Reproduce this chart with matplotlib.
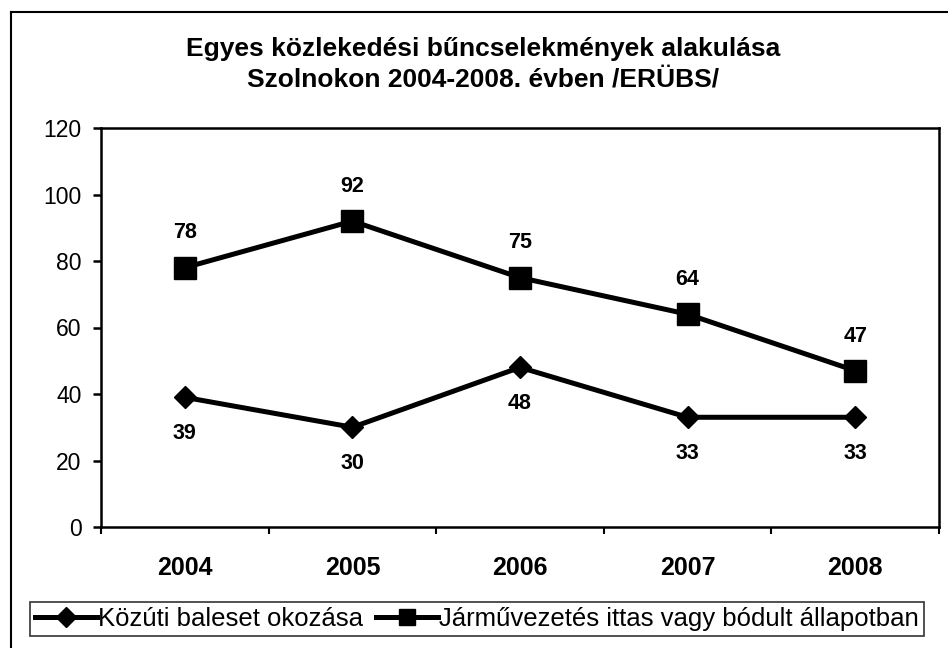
"""Közlekedési bűncselekmények Szolnokon 2004-2008 - line chart."""

import matplotlib
matplotlib.use("Agg")
import matplotlib.pyplot as plt
from matplotlib.lines import Line2D

plt.rcParams['font.family'] = ['Liberation Sans', 'DejaVu Sans']

# Data
years = ["2004", "2005", "2006", "2007", "2008"]
kozuti_baleset = [39, 30, 48, 33, 33]
ittas_jarmuvezetes = [78, 92, 75, 64, 47]
series_labels = ["Közúti baleset okozása",
                 "Járművezetés ittas vagy bódult állapotban"]
title_text = "Egyes közlekedési bűncselekmények alakulása\nSzolnokon 2004-2008. évben /ERÜBS/"
y_ticks = [0, 20, 40, 60, 80, 100, 120]

W, H = 948, 648
fig = plt.figure(figsize=(W / 100, H / 100), dpi=100)
ax = fig.add_axes([101 / W, 1 - 527 / H, (939 - 101) / W, (527 - 128) / H])

x = list(range(len(years)))

# Lines with markers
ax.plot(x, kozuti_baleset, color="black", lw=3.6, marker="D", ms=11,
        solid_joinstyle="miter", zorder=3)
ax.plot(x, ittas_jarmuvezetes, color="black", lw=3.6, marker="s", ms=16,
        solid_joinstyle="miter", zorder=3)

# Value labels: below for the diamonds, above for the squares
for xi, v in zip(x, kozuti_baleset):
    ax.annotate(str(v), (xi, v), xytext=(0, -26), textcoords="offset points",
                ha="center", va="center", fontsize=15.5, fontweight="bold")
for xi, v in zip(x, ittas_jarmuvezetes):
    ax.annotate(str(v), (xi, v), xytext=(0, 25), textcoords="offset points",
                ha="center", va="center", fontsize=15.5, fontweight="bold")

# Axes
ax.set_xlim(-0.5, len(years) - 0.5)
ax.set_ylim(0, 120)
ax.set_yticks(y_ticks)
ax.set_xticks(x)
ax.set_xticklabels(years, fontsize=18, fontweight="bold")
ax.set_xticks([i - 0.5 for i in range(len(years) + 1)], minor=True)
ax.tick_params(axis="x", which="major", length=0, pad=21)
ax.tick_params(axis="x", which="minor", length=5, width=1.5, direction="out")
ax.tick_params(axis="y", labelsize=16.5, length=6, width=1.8, pad=8)
for s in ax.spines.values():
    s.set_linewidth(1.8)

# Title
fig.text(483 / W, 1 - 64 / H, title_text, ha="center", va="center",
         fontsize=19, fontweight="bold", linespacing=1.35)

# Legend at the bottom
handles = [
    Line2D([], [], color="black", lw=3.6, marker="D", ms=10),
    Line2D([], [], color="black", lw=3.6, marker="s", ms=12),
]
leg = fig.legend(handles, series_labels, loc="center",
                 bbox_to_anchor=(477 / W, 1 - 619 / H), ncol=2,
                 fontsize=18.5, frameon=True, fancybox=False, handlelength=2.4,
                 handletextpad=0.05, columnspacing=0.5, borderpad=0.2,
                 borderaxespad=0)
leg.get_frame().set_edgecolor("black")
leg.get_frame().set_linewidth(1.2)

# Outer frame (cut off at the right and bottom)
fig.add_artist(Line2D([11 / W, 1], [1 - 12 / H, 1 - 12 / H],
                      color="black", lw=1.5, transform=fig.transFigure))
fig.add_artist(Line2D([11 / W, 11 / W], [1 - 12 / H, 0],
                      color="black", lw=1.5, transform=fig.transFigure))

fig.savefig("out.png", dpi=100)
